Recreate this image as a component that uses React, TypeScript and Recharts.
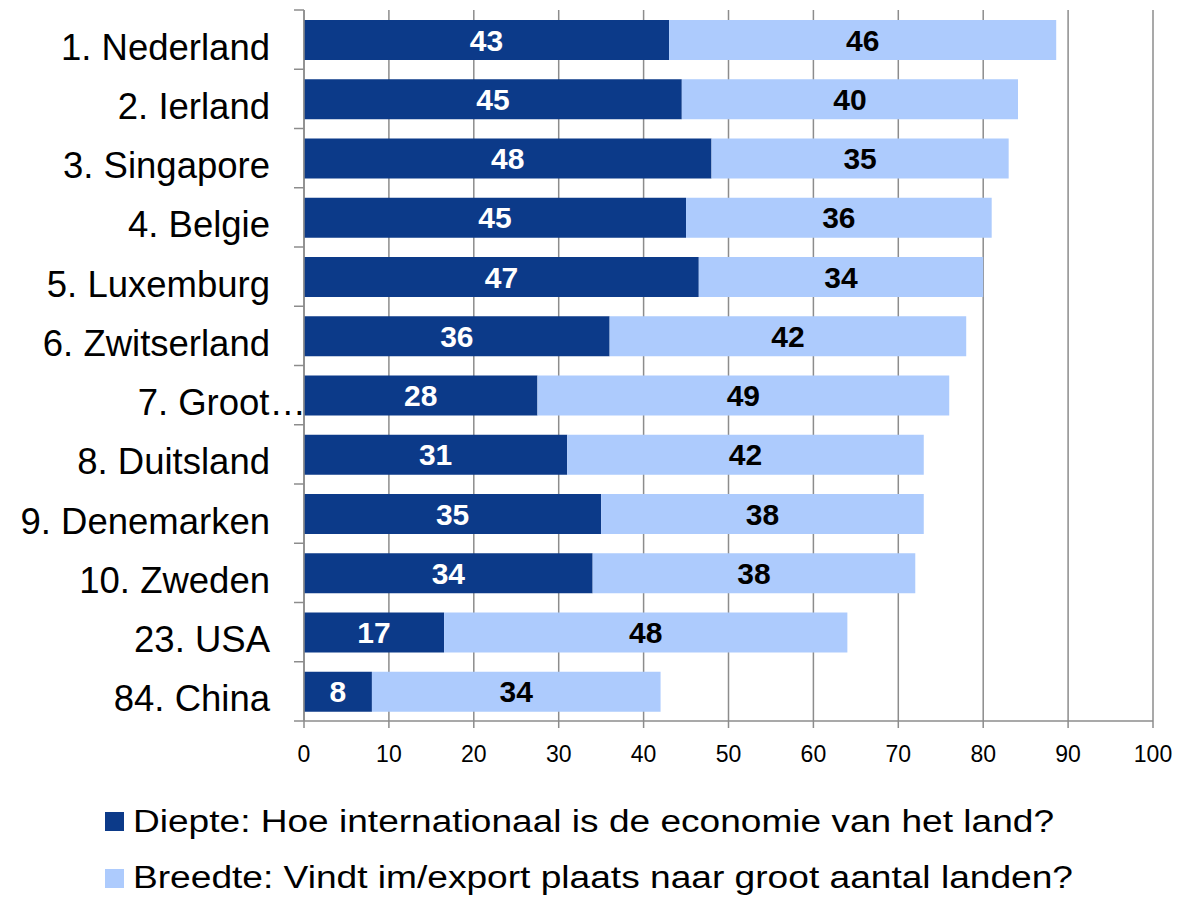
import React from "react";
import {
  BarChart,
  Bar,
  XAxis,
  YAxis,
  CartesianGrid,
  Legend,
  LabelList,
} from "recharts";

const countries = [
  "1. Nederland",
  "2. Ierland",
  "3. Singapore",
  "4. Belgie",
  "5. Luxemburg",
  "6. Zwitserland",
  "7. Groot…",
  "8. Duitsland",
  "9. Denemarken",
  "10. Zweden",
  "23. USA",
  "84. China",
];
const diepte = [43.0, 44.5, 48.0, 45.0, 46.5, 36.0, 27.5, 31.0, 35.0, 34.0, 16.5, 8.0];
const breedte = [45.6, 39.6, 35.0, 36.0, 33.5, 42.0, 48.5, 42.0, 38.0, 38.0, 47.5, 34.0];
const xTicks = [0, 10, 20, 30, 40, 50, 60, 70, 80, 90, 100];

const seriesNames = [
  "Diepte: Hoe internationaal is de economie van het land?",
  "Breedte: Vindt im/export plaats naar groot aantal landen?",
];

const data = countries.map((country, i) => ({
  country,
  diepte: diepte[i],
  breedte: breedte[i],
}));

const GRID = "#8c8c8c";
const DARK = "#0c3a89";
const LIGHT = "#adcbfd";
const FONT = "'Liberation Sans', Arial, sans-serif";
const BAND = 711 / countries.length;
const legendWidths = [921, 940];

function CountryTick(props: any) {
  const { y, payload, index } = props;
  const label: string = payload.value;
  const cut = label.endsWith("…");
  return (
    <g>
      <line x1={294} x2={304} y1={y - BAND / 2} y2={y - BAND / 2} stroke={GRID} strokeWidth={1.5} />
      {index === countries.length - 1 && (
        <line x1={294} x2={304} y1={y + BAND / 2} y2={y + BAND / 2} stroke={GRID} strokeWidth={1.5} />
      )}
      <text
        x={cut ? 306 : 270}
        y={y}
        dy={20}
        textAnchor="end"
        fontSize={36.5}
        fontFamily={FONT}
        fill="#000"
      >
        {label}
      </text>
    </g>
  );
}

function renderLegend(props: any) {
  // legend rows follow the series order, not the reversed stack order
  const items = [...(props.payload || [])].sort(
    (a: any, b: any) => seriesNames.indexOf(a.value) - seriesNames.indexOf(b.value)
  );
  return (
    <svg width={1178} height={108}>
      {items.map((p: any, i: number) => (
        <g key={p.value}>
          <rect x={105} y={22 + i * 57} width={19} height={19} fill={p.color} />
          <text
            x={133}
            y={42 + i * 56}
            fontSize={31}
            fontFamily={FONT}
            fill="#000"
            textLength={legendWidths[i]}
            lengthAdjust="spacingAndGlyphs"
          >
            {p.value}
          </text>
        </g>
      ))}
    </svg>
  );
}

export default function App() {
  return (
    <div style={{ position: "absolute", left: 0, top: 0, background: "#fff" }}>
      <BarChart
        width={1178}
        height={898}
        data={data}
        layout="vertical"
        margin={{ top: 10, right: 25, bottom: 137, left: 0 }}
      >
        <CartesianGrid horizontal={false} stroke={GRID} strokeWidth={1.5} />
        <XAxis
          type="number"
          domain={[0, 100]}
          ticks={xTicks}
          height={40}
          tickSize={7}
          tickMargin={18}
          axisLine={{ stroke: GRID, strokeWidth: 1.5 }}
          tickLine={{ stroke: GRID, strokeWidth: 1.5 }}
          tick={{ fontSize: 23, fill: "#000", fontFamily: FONT }}
        />
        <YAxis
          type="category"
          dataKey="country"
          width={304}
          interval={0}
          axisLine={{ stroke: GRID, strokeWidth: 1.5 }}
          tickLine={false}
          tick={<CountryTick />}
        />
        <Legend
          layout="vertical"
          align="center"
          verticalAlign="middle"
          content={renderLegend}
          wrapperStyle={{ left: 0, top: 790, width: 1178, height: 108 }}
        />
        <Bar
          dataKey="diepte"
          name={seriesNames[0]}
          stackId="a"
          fill={DARK}
          barSize={40}
          isAnimationActive={false}
        >
          <LabelList
            dataKey="diepte"
            position="center"
            fill="#fff"
            stroke="none"
            fontSize={30}
            fontWeight="bold"
            fontFamily={FONT}
            formatter={(v: any) => Math.round(Number(v))}
          />
        </Bar>
        <Bar
          dataKey="breedte"
          name={seriesNames[1]}
          stackId="a"
          fill={LIGHT}
          barSize={40}
          isAnimationActive={false}
        >
          <LabelList
            dataKey="breedte"
            position="center"
            fill="#000"
            stroke="none"
            fontSize={30}
            fontWeight="bold"
            fontFamily={FONT}
            formatter={(v: any) => Math.round(Number(v))}
          />
        </Bar>
      </BarChart>
    </div>
  );
}
